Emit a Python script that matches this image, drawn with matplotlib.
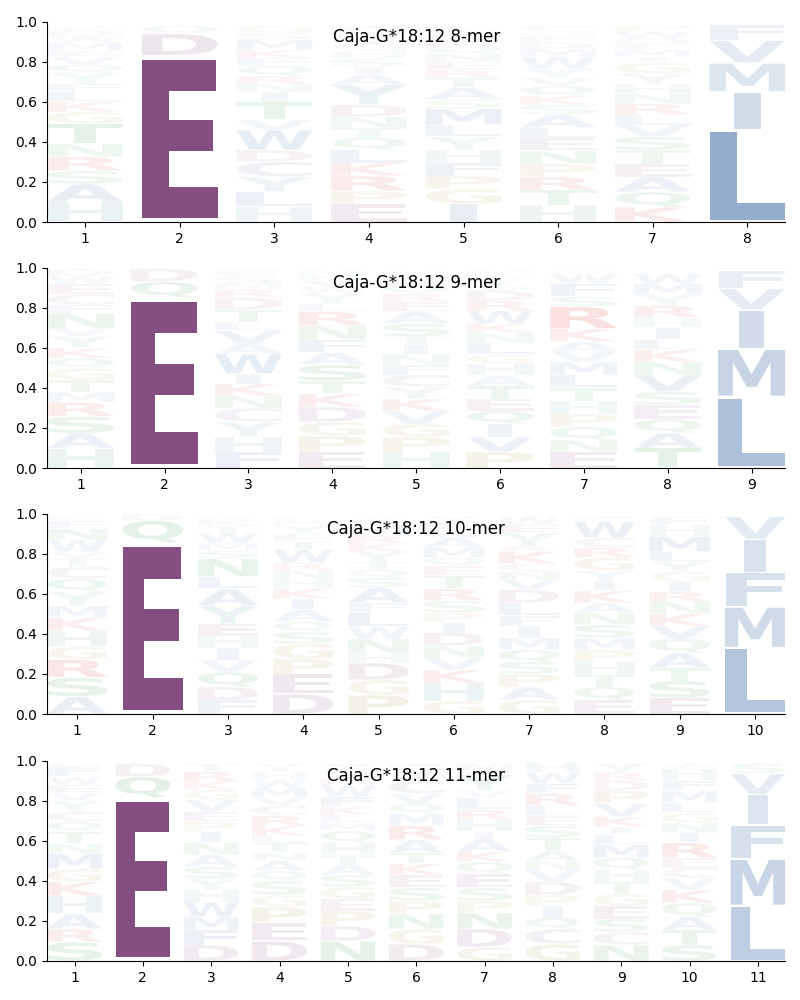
import matplotlib
matplotlib.use('Agg')
import matplotlib.pyplot as plt
from matplotlib.textpath import TextPath
from matplotlib.font_manager import FontProperties
from matplotlib.patches import PathPatch
from matplotlib.path import Path

titles = ["Caja-G*18:12 8-mer", "Caja-G*18:12 9-mer",
          "Caja-G*18:12 10-mer", "Caja-G*18:12 11-mer"]

# letters per position, listed bottom -> top, with matching frequencies
mer8_letters = ["HASRNTGKLFYQVEMWDC", "EDQ", "HLYCDWVTINRQFKMSG",
                "EPRKLQTNDYAISHGVMW", "IGPFHYLMSATRENQKDWC",
                "HTRPNELASKQVYWMDFGC", "KQAETSVLRNHYGIMFDWP", "LIMVF"]
mer8_freqs = [
    [.10, .09, .065, .07, .065, .10, .06, .05, .05, .04, .055, .04, .04, .03, .04, .03, .03, .02],
    [.83, .11, .04],
    [.076, .075, .075, .075, .058, .10, .05, .09, .05, .04, .04, .05, .04, .04, .05, .035, .035],
    [.09, .065, .075, .065, .065, .06, .05, .055, .06, .10, .05, .04, .04, .04, .035, .035, .03, .025],
    [.09, .075, .065, .065, .065, .065, .06, .08, .045, .06, .05, .04, .04, .04, .035, .03, .03, .025, .02],
    [.085, .075, .065, .065, .065, .065, .05, .065, .05, .045, .05, .04, .045, .06, .04, .03, .03, .025, .03],
    [.075, .075, .075, .065, .07, .065, .06, .05, .055, .05, .05, .05, .055, .03, .035, .03, .025, .035, .03],
    [.46, .19, .143, .113, .08],
]

mer9_letters = ["HASRMTGQKYVNFCEWD", "EQD", "FHYCNKIWAVLTDRMSE",
                "EPGDKTSAFNRLYWVHM", "HPGVKYCFNITSAERQWDM",
                "PVIQETAHGLNKWRDSYFM", "ENQPHTLMVAKRSFWG",
                "TAQESVNKLIHRYMW", "LMIVF"]
mer9_freqs = [
    [.098, .075, .085, .07, .05, .06, .06, .05, .05, .06, .04, .075, .04, .055, .05, .04, .035],
    [.85, .08, .065],
    [.08, .075, .075, .07, .06, .06, .05, .10, .05, .065, .04, .065, .06, .04, .03, .035, .03],
    [.08, .08, .07, .075, .065, .065, .08, .06, .065, .07, .07, .04, .05, .035, .03, .03, .02],
    [.08, .075, .065, .065, .06, .06, .06, .05, .05, .05, .04, .065, .06, .05, .04, .04, .03, .03, .015],
    [.08, .075, .065, .065, .06, .065, .05, .06, .045, .06, .05, .045, .065, .05, .05, .03, .03, .02, .02],
    [.08, .06, .065, .065, .065, .065, .065, .065, .05, .05, .065, .11, .05, .065, .05, .015],
    [.10, .075, .07, .07, .065, .085, .065, .06, .05, .06, .05, .06, .055, .055, .05],
    [.355, .24, .195, .105, .09],
]

mer10_letters = ["ASRGHKMYQCTVWNFE", "EQD", "FDQVIHEYALNSMWTKR",
                 "DEPGSQAIKHNRWTFYML", "PGDHNWLFASQTYKRMEV",
                 "GHKVNDIPSRTEQMAWFY", "GAPSQMIFLDVNCKRYEW",
                 "EQTHPMSNAKIYGRCWF", "ESTAQVKNRIGYLMHF", "LMFIV"]
mer10_freqs = [
    [.087, .095, .09, .065, .078, .065, .06, .07, .065, .06, .04, .035, .06, .055, .04, .02],
    [.855, .11, .03],
    [.07, .065, .075, .06, .06, .06, .06, .09, .085, .06, .09, .04, .04, .05, .035, .025, .02],
    [.10, .10, .075, .075, .06, .05, .06, .055, .05, .05, .045, .035, .065, .04, .04, .04, .025, .02],
    [.095, .075, .085, .05, .07, .06, .07, .05, .075, .05, .04, .04, .05, .04, .04, .05, .03, .015],
    [.065, .09, .065, .06, .06, .065, .05, .05, .06, .06, .065, .05, .04, .05, .05, .04, .035, .03],
    [.07, .065, .065, .06, .06, .06, .06, .05, .065, .065, .05, .04, .04, .06, .025, .07, .04, .04],
    [.07, .065, .06, .065, .06, .06, .065, .06, .05, .06, .05, .05, .065, .05, .05, .08, .025],
    [.08, .085, .065, .075, .07, .065, .06, .06, .05, .05, .05, .05, .05, .075, .06, .04],
    [.33, .205, .17, .165, .115],
]

mer11_letters = ["SRAHKGMNTQCYVEWFD", "EQD", "DFMWHYSANIPEVGKRT",
                 "DEPGSQANTLKRCVMWHY", "NDPEGSATHQMLKFWRVY",
                 "DGNPSEKTARMQVCYF", "GDNPSEQKAIHRLVYWM",
                 "GCQIPDVNATSELRFWH", "NCSEGTHQMLIKVPDRY",
                 "STAQKVCERINGLMFHW", "LMFIVS"]
mer11_freqs = [
    [.095, .065, .075, .09, .07, .065, .075, .05, .06, .05, .05, .055, .04, .04, .04, .05, .015],
    [.815, .105, .065],
    [.08, .075, .065, .075, .06, .055, .06, .06, .06, .055, .05, .05, .06, .05, .04, .05, .04],
    [.10, .09, .08, .06, .07, .05, .05, .04, .05, .035, .05, .05, .05, .04, .05, .04, .04, .04],
    [.10, .075, .075, .06, .06, .06, .05, .05, .06, .06, .04, .04, .04, .05, .06, .03, .04, .035],
    [.085, .075, .075, .065, .065, .065, .055, .055, .065, .07, .06, .05, .05, .065, .06, .025],
    [.07, .09, .08, .06, .065, .07, .06, .05, .065, .035, .06, .05, .06, .035, .08, .025, .03],
    [.085, .075, .055, .06, .055, .065, .06, .045, .05, .065, .06, .05, .05, .06, .05, .055, .05],
    [.08, .065, .065, .065, .06, .06, .06, .06, .065, .05, .04, .05, .065, .065, .05, .04, .045],
    [.08, .075, .065, .07, .065, .06, .05, .05, .075, .05, .05, .05, .05, .06, .05, .06, .025],
    [.275, .235, .17, .15, .105, .05],
]

panels = [(mer8_letters, mer8_freqs), (mer9_letters, mer9_freqs),
          (mer10_letters, mer10_freqs), (mer11_letters, mer11_freqs)]

BLUE = '#4672AA'
COLORS = {}
for c in 'AVLIMFW':
    COLORS[c] = BLUE
for c in 'HY':
    COLORS[c] = '#5F9EA0'
for c in 'STNQ':
    COLORS[c] = '#3A9A4A'
for c in 'GP':
    COLORS[c] = '#A09030'
for c in 'DE':
    COLORS[c] = '#854E81'
COLORS['C'] = '#8A6A9A'
for c in 'KR':
    COLORS[c] = '#D62728'

FP = FontProperties(family='DejaVu Sans', weight='bold')
E_EXT = TextPath((0, 0), 'E', size=1, prop=FP).get_extents()
WIDTH = 0.8
VPAD = 0.05


def draw_glyph(ax, c, x, y, h, color, alpha):
    tp = TextPath((0, 0), c, size=1, prop=FP)
    ext = tp.get_extents()
    hs = min(WIDTH / ext.width, WIDTH / E_EXT.width)
    gh = h * (1 - VPAD)
    vs = gh / ext.height
    v = tp.vertices.copy()
    v[:, 0] = (v[:, 0] - ext.x0) * hs + x - ext.width * hs / 2
    v[:, 1] = (v[:, 1] - ext.y0) * vs + y + h * VPAD / 2
    ax.add_patch(PathPatch(Path(v, tp.codes), facecolor=color, alpha=alpha,
                           edgecolor='none', lw=0, zorder=2))


fig = plt.figure(figsize=(8, 10), dpi=100)
bottoms = [0.778, 0.532, 0.286, 0.039]
for (letters, freqs), title, b in zip(panels, titles, bottoms):
    ax = fig.add_axes([0.059, b, 0.9225, 0.2005])
    n = len(letters)
    for i in range(n):
        pos = i + 1
        y = 0.0
        for c, f in zip(letters[i], freqs[i]):
            draw_glyph(ax, c, pos, y, f, COLORS[c], min(1.0, 1.25 * f))
            y += f
    ax.set_xlim(0.6, n + 0.4)
    ax.set_ylim(0, 1)
    ax.set_xticks(range(1, n + 1))
    ax.set_yticks([0, 0.2, 0.4, 0.6, 0.8, 1.0])
    ax.spines['top'].set_visible(False)
    ax.spines['right'].set_visible(False)
    ax.text(0.5, 0.925, title, transform=ax.transAxes, ha='center',
            va='center', fontsize=12, zorder=5)

fig.savefig('out.png', dpi=100)
